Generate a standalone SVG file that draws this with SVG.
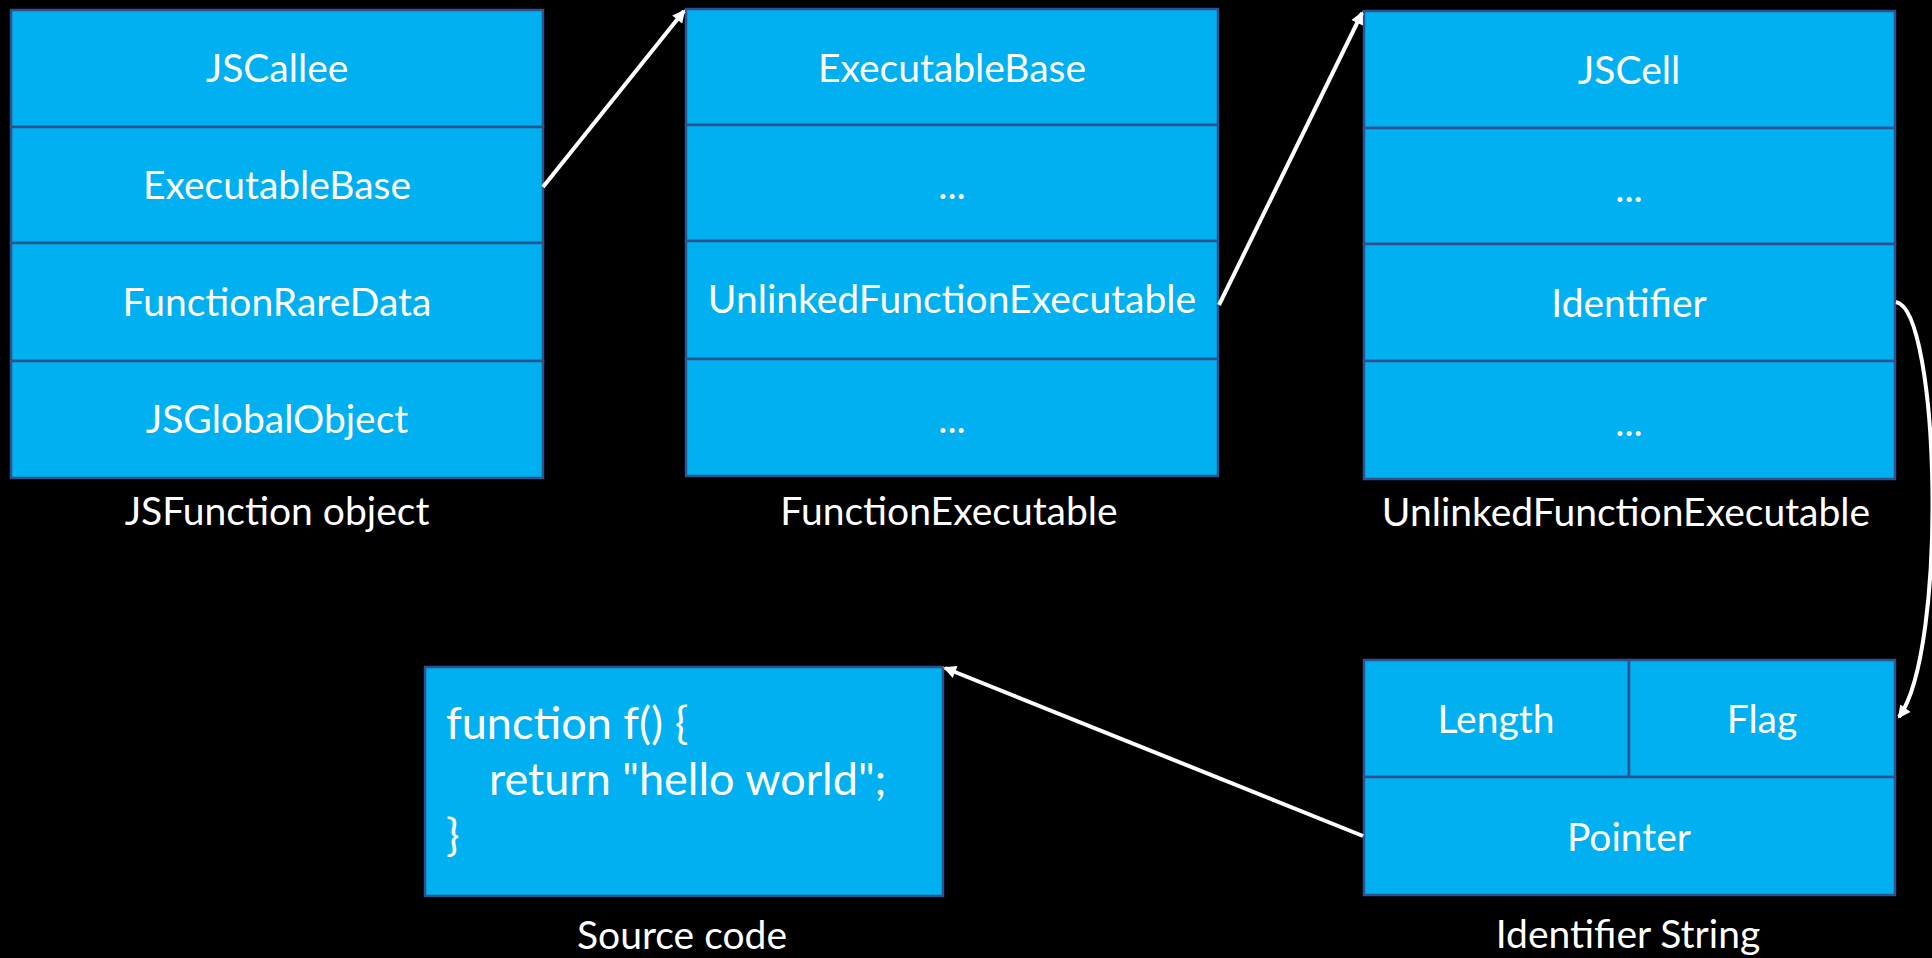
<svg xmlns="http://www.w3.org/2000/svg" width="1932" height="958" viewBox="0 0 1932 958">
<style>
.cell{fill:#00B0F0;stroke:#2F528F;stroke-width:2.5}
.t{font-family:Lato,"Open Sans","Liberation Sans",sans-serif;font-size:39px;fill:#FFFFFF;text-anchor:middle}
.code{font-family:Lato,"Open Sans","Liberation Sans",sans-serif;font-size:45px;fill:#FFFFFF}
.arrow{fill:none;stroke:#FFFFFF;stroke-width:4}
</style>
<defs>
<marker id="ah" viewBox="0 0 10 10" refX="8.5" refY="5" markerWidth="4" markerHeight="3.2" orient="auto" markerUnits="strokeWidth">
<path d="M0,0 L10,5 L0,10 z" fill="#FFFFFF"/>
</marker>
</defs>
<rect x="0" y="0" width="1932" height="958" fill="#000000"/>

<g id="jsfunction">
<rect class="cell" x="11" y="10" width="532" height="117"/>
<rect class="cell" x="11" y="127" width="532" height="116"/>
<rect class="cell" x="11" y="243" width="532" height="118"/>
<rect class="cell" x="11" y="361" width="532" height="117"/>
<text class="t" x="277" y="82">JSCallee</text>
<text class="t" x="277" y="199">ExecutableBase</text>
<text class="t" x="277" y="316">FunctionRareData</text>
<text class="t" x="277" y="433">JSGlobalObject</text>
<text class="t" x="277" y="525">JSFunction object</text>
</g>

<g id="functionexecutable">
<rect class="cell" x="686" y="9" width="532" height="116"/>
<rect class="cell" x="686" y="125" width="532" height="116"/>
<rect class="cell" x="686" y="241" width="532" height="118"/>
<rect class="cell" x="686" y="359" width="532" height="117"/>
<text class="t" x="952" y="82">ExecutableBase</text>
<text class="t" x="952" y="199">...</text>
<text class="t" x="952" y="313">UnlinkedFunctionExecutable</text>
<text class="t" x="952" y="433">...</text>
<text class="t" x="949" y="525">FunctionExecutable</text>
</g>

<g id="unlinkedfunctionexecutable">
<rect class="cell" x="1364" y="11" width="531" height="117"/>
<rect class="cell" x="1364" y="128" width="531" height="116"/>
<rect class="cell" x="1364" y="244" width="531" height="117"/>
<rect class="cell" x="1364" y="361" width="531" height="118"/>
<text class="t" x="1629" y="84">JSCell</text>
<text class="t" x="1629" y="202">...</text>
<text class="t" x="1629" y="317">Identifier</text>
<text class="t" x="1629" y="436">...</text>
<text class="t" x="1626" y="526">UnlinkedFunctionExecutable</text>
</g>

<g id="identifierstring">
<rect class="cell" x="1364" y="660" width="265" height="117"/>
<rect class="cell" x="1629" y="660" width="266" height="117"/>
<rect class="cell" x="1364" y="777" width="531" height="118"/>
<text class="t" x="1496" y="733">Length</text>
<text class="t" x="1762" y="733">Flag</text>
<text class="t" x="1629" y="851">Pointer</text>
<text class="t" x="1628" y="948">Identifier String</text>
</g>

<g id="sourcecode">
<rect class="cell" x="425" y="667" width="518" height="229"/>
<text class="code" x="446" y="739">function f() {</text>
<text class="code" x="489" y="795">return "hello world";</text>
<text class="code" x="446" y="851">}</text>
<text class="t" x="682" y="949">Source code</text>
</g>

<g id="connectors">
<path class="arrow" d="M543,187 L684,11" marker-end="url(#ah)"/>
<path class="arrow" d="M1219,305 L1362,13" marker-end="url(#ah)"/>
<path class="arrow" d="M1896,302 C1940,310 1948,650 1899,717" marker-end="url(#ah)"/>
<path class="arrow" d="M1363,836 L945,668" marker-end="url(#ah)"/>
</g>
</svg>
